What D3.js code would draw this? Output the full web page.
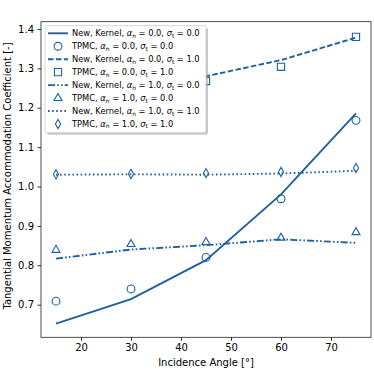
<!DOCTYPE html>
<html>
<head>
<meta charset="utf-8">
<script src="https://cdn.jsdelivr.net/npm/d3@7"></script>
<style>
  body { margin: 0; background: white; }
  svg { font-family: "DejaVu Sans", sans-serif; }
</style>
</head>
<body>
<div id="chart"></div>
<script>
const angles = [15, 30, 45, 60, 75];
const newK00 = [0.652, 0.714, 0.813, 0.98, 1.186];
const tpmc00 = [0.709, 0.740, 0.820, 0.969, 1.168];
const newK01 = [1.225, 1.250, 1.280, 1.321, 1.378];
const tpmc01 = [1.230, 1.248, 1.268, 1.304, 1.380];
const newK10 = [0.817, 0.840, 0.851, 0.866, 0.857];
const tpmc10 = [0.839, 0.854, 0.859, 0.870, 0.884];
const newK11 = [1.030, 1.031, 1.030, 1.033, 1.040];
const tpmc11 = [1.031, 1.032, 1.034, 1.037, 1.047];
const xTicks = [20, 30, 40, 50, 60, 70];
const yTicks = [0.7, 0.8, 0.9, 1.0, 1.1, 1.2, 1.3, 1.4];

const color = "#1f60a0";
const W = 374, H = 374;
const mLeft = 41, mRight = 371, mTop = 21.7, mBottom = 337.3;

const svg = d3.select("#chart").append("svg")
    .attr("width", W).attr("height", H);

const x = d3.scaleLinear().domain([12, 78]).range([mLeft, mRight]);
const y = d3.scaleLinear().domain([0.6172, 1.4185]).range([mBottom, mTop]);

svg.append("clipPath").attr("id", "clip")
    .append("rect").attr("x", mLeft).attr("y", mTop)
    .attr("width", mRight - mLeft).attr("height", mBottom - mTop);

const plot = svg.append("g").attr("clip-path", "url(#clip)");

const lineGen = vals => d3.line()
    .x((d, i) => x(angles[i]))
    .y(d => y(d))(vals);

const lines = [
    {vals: newK00, dash: null},
    {vals: newK01, dash: "5.5,2.4"},
    {vals: newK10, dash: "7,2.2,1.6,2.2,1.6,2.2"},
    {vals: newK11, dash: "1.6,2.5"}
];
lines.forEach(l => {
    plot.append("path")
        .attr("d", lineGen(l.vals))
        .attr("fill", "none")
        .attr("stroke", color)
        .attr("stroke-width", 1.9)
        .attr("stroke-dasharray", l.dash);
});

const markerPath = {
    circle: d3.symbol().type(d3.symbolCircle).size(48)(),
    square: "M-3.6,-3.6H3.6V3.6H-3.6Z",
    triangle: "M0,-4.6L4,2.4H-4Z",
    diamond: "M0,-4.6L2.6,0L0,4.6L-2.6,0Z"
};
const markerSets = [
    {vals: tpmc00, shape: "circle"},
    {vals: tpmc01, shape: "square"},
    {vals: tpmc10, shape: "triangle"},
    {vals: tpmc11, shape: "diamond"}
];
markerSets.forEach(m => {
    plot.selectAll(null)
        .data(m.vals)
        .enter()
        .append("path")
        .attr("d", markerPath[m.shape])
        .attr("transform", (d, i) => "translate(" + x(angles[i]) + "," + y(d) + ")")
        .attr("fill", "none")
        .attr("stroke", color)
        .attr("stroke-width", 1.1);
});

// axes
const xAxis = svg.append("g")
    .attr("transform", "translate(0," + mBottom + ")")
    .call(d3.axisBottom(x).tickValues(xTicks).tickSize(3.5).tickPadding(3.5).tickFormat(d3.format("d")));
const yAxis = svg.append("g")
    .attr("transform", "translate(" + mLeft + ",0)")
    .call(d3.axisLeft(y).tickValues(yTicks).tickSize(3.5).tickPadding(3.5).tickFormat(d3.format(".1f")));
[xAxis, yAxis].forEach(a => {
    a.select(".domain").remove();
    a.selectAll("text").attr("font-size", 10).attr("fill", "#000")
        .attr("font-family", "DejaVu Sans");
    a.selectAll("line").attr("stroke", "#000").attr("stroke-width", 0.8);
});

svg.append("rect")
    .attr("x", mLeft).attr("y", mTop)
    .attr("width", mRight - mLeft).attr("height", mBottom - mTop)
    .attr("fill", "none").attr("stroke", "#222").attr("stroke-width", 0.8);

svg.append("text")
    .attr("x", (mLeft + mRight) / 2).attr("y", 366)
    .attr("text-anchor", "middle").attr("font-size", 10)
    .text("Incidence Angle [\u00b0]");

svg.append("text")
    .attr("transform", "translate(11,176) rotate(-90)")
    .attr("text-anchor", "middle").attr("font-size", 10)
    .text("Tangential Momentum Accommodation Coefficient [-]");

// legend
const legendItems = [
    {kind: "line", dash: null, a: "0.0", s: "0.0"},
    {kind: "marker", shape: "circle", a: "0.0", s: "0.0"},
    {kind: "line", dash: "5.5,2.4", a: "0.0", s: "1.0"},
    {kind: "marker", shape: "square", a: "0.0", s: "1.0"},
    {kind: "line", dash: "7,2.2,1.6,2.2,1.6,2.2", a: "1.0", s: "0.0"},
    {kind: "marker", shape: "triangle", a: "1.0", s: "0.0"},
    {kind: "line", dash: "1.6,2.5", a: "1.0", s: "1.0"},
    {kind: "marker", shape: "diamond", a: "1.0", s: "1.0"}
];
const lg = svg.append("g");
lg.append("rect")
    .attr("x", 47).attr("y", 27.7).attr("width", 161).attr("height", 107)
    .attr("rx", 2).attr("fill", "#999").attr("opacity", 0.55);
lg.append("rect")
    .attr("x", 45).attr("y", 25.7).attr("width", 161).attr("height", 107)
    .attr("rx", 2).attr("fill", "white").attr("stroke", "#ccc").attr("stroke-width", 0.8);

legendItems.forEach((it, i) => {
    const cy = 33.3 + i * 12.95;
    if (it.kind === "line") {
        lg.append("line")
            .attr("x1", 48).attr("x2", 68).attr("y1", cy).attr("y2", cy)
            .attr("stroke", color).attr("stroke-width", 1.9)
            .attr("stroke-dasharray", it.dash);
    } else {
        lg.append("path")
            .attr("d", markerPath[it.shape])
            .attr("transform", "translate(58," + cy + ")")
            .attr("fill", "none").attr("stroke", color).attr("stroke-width", 1.1);
    }
    const t = lg.append("text")
        .attr("x", 72).attr("y", cy + 3)
        .attr("font-size", 8.3).attr("fill", "#000");
    t.append("tspan").text((it.kind === "line" ? "New, Kernel, " : "TPMC, "));
    t.append("tspan").attr("font-style", "italic").text("\u03b1");
    t.append("tspan").attr("font-size", 5.9).attr("dy", 1.5).text("n");
    t.append("tspan").attr("dy", -1.5).text(" = " + it.a + ", ");
    t.append("tspan").attr("font-style", "italic").text("\u03c3");
    t.append("tspan").attr("font-size", 5.9).attr("dy", 1.5).text("t");
    t.append("tspan").attr("dy", -1.5).text(" = " + it.s);
});
</script>
</body>
</html>
